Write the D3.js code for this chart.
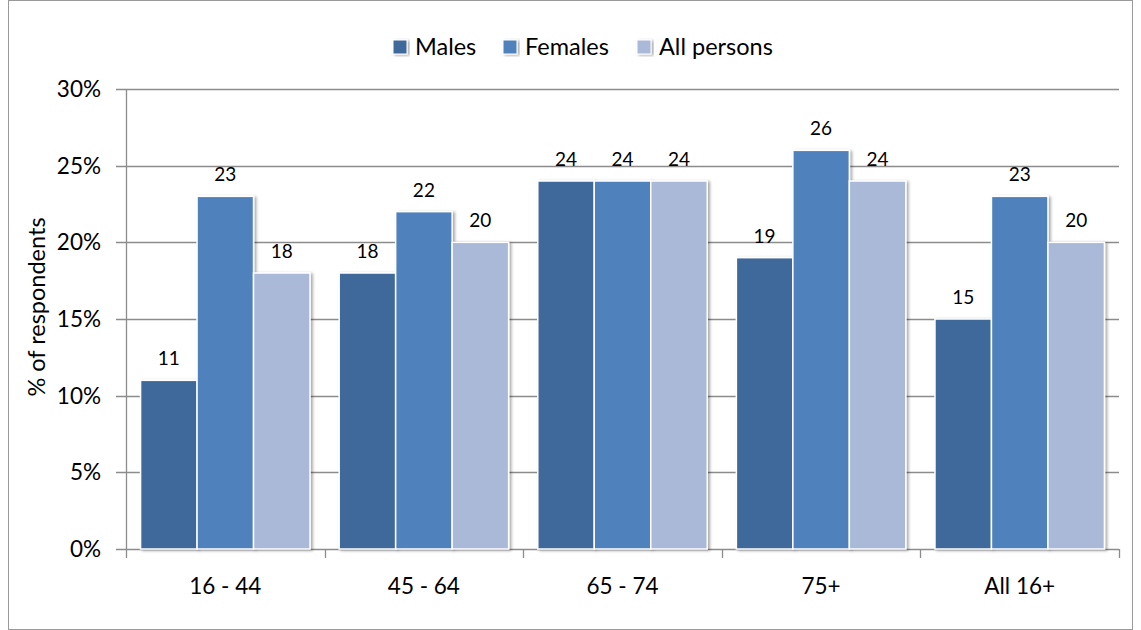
<!DOCTYPE html>
<html>
<head>
<meta charset="utf-8">
<script src="https://cdn.jsdelivr.net/npm/d3@7"></script>
<style>
  html, body { margin: 0; padding: 0; background: #fff; }
  svg { display: block; font-family: Lato, "Open Sans", sans-serif; }
</style>
</head>
<body>
<svg id="chart" width="1141" height="630"></svg>
<script>
// Age groups along the x axis
const categories = ["16 - 44", "45 - 64", "65 - 74", "75+", "All 16+"];
// Series names and percentage of respondents per age group
const seriesNames = ["Males", "Females", "All persons"];
const males = [11, 18, 24, 19, 15];
const females = [23, 22, 24, 26, 23];
const allPersons = [18, 20, 24, 24, 20];
const seriesColors = ["#41699b", "#4f81bd", "#aab9d7"];
const yTicks = [0, 5, 10, 15, 20, 25, 30];

const seriesValues = [males, females, allPersons];

const svg = d3.select("#chart");
const W = 1141, H = 630;
const margin = { left: 126, right: 22, top: 89, bottom: 81 };
const plotW = W - margin.left - margin.right;
const plotH = H - margin.top - margin.bottom;

// Outer frame
svg.append("rect")
  .attr("x", 8.5).attr("y", 0.5)
  .attr("width", W - 17).attr("height", H - 1)
  .attr("fill", "#fff").attr("stroke", "#9a9a9a").attr("stroke-width", 1);

const defs = svg.append("defs");
const shadow = defs.append("filter").attr("id", "shadow")
  .attr("x", "-20%").attr("y", "-20%").attr("width", "140%").attr("height", "140%");
shadow.append("feGaussianBlur").attr("in", "SourceAlpha").attr("stdDeviation", 1.6);
shadow.append("feOffset").attr("dx", 1.5).attr("dy", 1).attr("result", "off");
shadow.append("feComponentTransfer").append("feFuncA").attr("type", "linear").attr("slope", 0.35);
const merge = shadow.append("feMerge");
merge.append("feMergeNode");
merge.append("feMergeNode").attr("in", "SourceGraphic");

const g = svg.append("g").attr("transform", `translate(${margin.left},${margin.top})`);

const x0 = d3.scaleBand().domain(categories).range([0, plotW]).paddingInner(0).paddingOuter(0);
const x1 = d3.scaleBand().domain(seriesNames).range([0, x0.bandwidth()]).paddingOuter(0.258).paddingInner(0);
const y = d3.scaleLinear().domain([0, 30]).range([plotH, 0]);

// Horizontal gridlines with tick marks reaching left of the axis
g.append("g").selectAll("line").data(yTicks).join("line")
  .attr("x1", -10).attr("x2", plotW)
  .attr("y1", d => Math.round(y(d)) + 0.5).attr("y2", d => Math.round(y(d)) + 0.5)
  .attr("stroke", "#8c8c8c").attr("stroke-width", 1.3);

// Y axis labels
g.append("g").selectAll("text").data(yTicks).join("text")
  .attr("x", -25).attr("y", d => y(d))
  .attr("dy", "0.36em").attr("text-anchor", "end")
  .attr("font-size", 22.5).attr("fill", "#000")
  .text(d => d + "%");

// Y axis line
g.append("line").attr("x1", 0.5).attr("x2", 0.5).attr("y1", 0).attr("y2", plotH)
  .attr("stroke", "#8c8c8c").attr("stroke-width", 1.3);

// Category tick marks below the baseline
const catEdges = categories.map(c => x0(c)).concat([plotW]);
g.append("g").selectAll("line").data(catEdges).join("line")
  .attr("x1", d => Math.round(d) + 0.5).attr("x2", d => Math.round(d) + 0.5)
  .attr("y1", plotH).attr("y2", plotH + 9)
  .attr("stroke", "#8c8c8c").attr("stroke-width", 1.3);

// Bars
const groups = g.append("g").selectAll("g").data(categories).join("g")
  .attr("transform", c => `translate(${x0(c)},0)`);

groups.selectAll("rect")
  .data((c, i) => seriesNames.map((s, j) => ({ s, j, v: seriesValues[j][i] })))
  .join("rect")
  .attr("x", d => x1(d.s))
  .attr("y", d => y(d.v))
  .attr("width", x1.bandwidth())
  .attr("height", d => plotH - y(d.v))
  .attr("fill", d => seriesColors[d.j])
  .attr("stroke", "#fff").attr("stroke-width", 1.5)
  .attr("filter", "url(#shadow)");

// Value labels above bars
groups.selectAll("text")
  .data((c, i) => seriesNames.map((s, j) => ({ s, j, v: seriesValues[j][i] })))
  .join("text")
  .attr("x", d => x1(d.s) + x1.bandwidth() / 2)
  .attr("y", d => y(d.v) - 15)
  .attr("text-anchor", "middle")
  .attr("font-size", 19).attr("fill", "#000")
  .text(d => d.v);

// Category labels
g.append("g").selectAll("text").data(categories).join("text")
  .attr("x", c => x0(c) + x0.bandwidth() / 2)
  .attr("y", plotH + 45)
  .attr("text-anchor", "middle")
  .attr("font-size", 22.5).attr("fill", "#000")
  .text(c => c);

// Y axis title
svg.append("text")
  .attr("transform", `translate(45,307) rotate(-90)`)
  .attr("text-anchor", "middle")
  .attr("font-size", 23.5).attr("fill", "#000")
  .text("% of respondents");

// Legend
const legendItems = [
  { name: seriesNames[0], color: seriesColors[0], x: 415 },
  { name: seriesNames[1], color: seriesColors[1], x: 525 },
  { name: seriesNames[2], color: seriesColors[2], x: 659 }
];
const legend = svg.append("g");
const li = legend.selectAll("g").data(legendItems).join("g")
  .attr("transform", d => `translate(${d.x},47)`);
li.append("rect")
  .attr("x", -22).attr("y", -7).attr("width", 14).attr("height", 14)
  .attr("fill", d => d.color).attr("stroke", "#fff").attr("stroke-width", 1)
  .attr("filter", "url(#shadow)");
li.append("text")
  .attr("x", 0).attr("y", 0).attr("dy", "0.36em")
  .attr("font-size", 23.5).attr("fill", "#000")
  .text(d => d.name);
</script>
</body>
</html>
